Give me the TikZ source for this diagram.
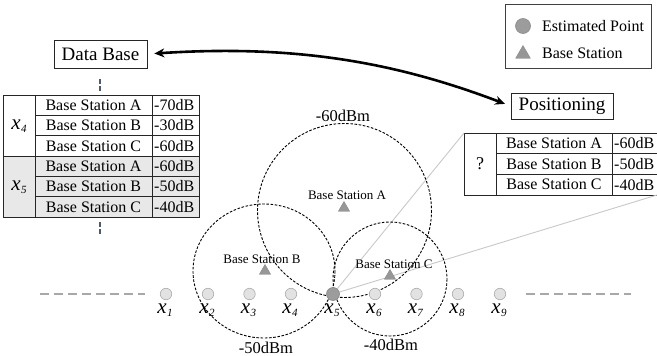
\documentclass[tikz,border=0pt]{standalone}
\usepackage{fontspec}
\setmainfont{Liberation Serif}
\usetikzlibrary{shapes.geometric,arrows.meta}
\definecolor{ptfill}{HTML}{E2E2E2}
\definecolor{ptdraw}{HTML}{ABABAB}
\definecolor{estfill}{HTML}{9C9C9C}
\definecolor{estdraw}{HTML}{8A8A8A}
\definecolor{trifill}{HTML}{979797}
\definecolor{tgray}{HTML}{E8E8E8}
\definecolor{dbdash}{HTML}{4D5A6E}
\definecolor{guide}{HTML}{C8C8C8}
\definecolor{axisdash}{HTML}{A8A8A8}
\newcommand\xlab[1]{\textit{x}\kern0.3pt\raisebox{-0.35ex}{\fontsize{11}{11}\selectfont\textit{#1}}}
\begin{document}
\begin{tikzpicture}[x=1pt,y=-1pt,
  framebox/.style={draw=black!85,line width=0.8pt,inner sep=0pt,font=\fontsize{19}{19}\selectfont},
  cell/.style={inner sep=0pt,font=\fontsize{16}{16}\selectfont},
  tline/.style={draw=black!85,line width=0.8pt},
  rangecirc/.style={draw=black,line width=0.9pt,dash pattern=on 2.6pt off 1.6pt},
  pt/.style={circle,fill=ptfill,draw=ptdraw,line width=0.6pt,minimum size=11.5pt,inner sep=0pt},
  estpt/.style={circle,fill=estfill,draw=estdraw,line width=0.6pt,minimum size=13pt,inner sep=0pt},
  bs/.style={regular polygon,regular polygon sides=3,fill=trifill,draw=trifill!90!black,line width=0.4pt,minimum size=13pt,inner sep=0pt},
  bslabel/.style={inner sep=0pt,font=\fontsize{13}{13}\selectfont},
  dbmlabel/.style={inner sep=0pt,font=\fontsize{16.5}{16.5}\selectfont},
  xlabel/.style={inner sep=0pt,font=\fontsize{21}{21}\selectfont},
  legtext/.style={inner sep=0pt,anchor=west,font=\fontsize{16}{16}\selectfont},
  dbconn/.style={draw=dbdash,line width=1.6pt,dash pattern=on 5pt off 2pt},
  guideline/.style={draw=guide,line width=0.9pt},
  axisline/.style={draw=axisdash,line width=1.8pt,dash pattern=on 9pt off 5pt}
]
\useasboundingbox (0,0) rectangle (657,356);

% ---------- boxes ----------
\node[framebox,minimum width=93pt,minimum height=28pt] (db) at (100.5,54) {Data Base};
\node[framebox,minimum width=102pt,minimum height=26pt] (pos) at (562,106) {Positioning};
\node[draw=black!75,line width=0.8pt,minimum width=146pt,minimum height=64pt,inner sep=0pt] (legend) at (578,36) {};
\node[circle,fill=estfill,draw=estdraw,line width=0.6pt,minimum size=15pt,inner sep=0pt] (legcirc) at (523,26) {};
\node[bs,minimum size=17pt] (legtri) at (523,54) {};
\node[legtext] (legest) at (542,26) {Estimated Point};
\node[legtext] (legbs) at (542,53) {Base Station};

% ---------- main arrow ----------
\draw[line width=2.6pt,{Stealth[length=10pt,width=9pt]}-{Stealth[length=10pt,width=9pt]},shorten <=7pt,shorten >=6pt]
  (db.east) .. controls (300,44) and (400,64) .. (pos.west);

% ---------- left table ----------
\fill[tgray] (3,156) rectangle (199,217);
\draw[tline] (3,95) rectangle (199,217);
\draw[tline] (3,156) -- (199,156);
\draw[tline] (35,95) -- (35,217);
\draw[tline] (152,95) -- (152,217);
\foreach \yy in {115.3,135.7,176.3,196.7} \draw[tline] (35,\yy) -- (199,\yy);
\node[xlabel] (lx4) at (19,126) {\xlab{4}};
\node[xlabel] (lx5) at (19,187) {\xlab{5}};
\node[cell] (la1) at (93.5,105.2) {Base Station A};
\node[cell] (lb1) at (93.5,125.5) {Base Station B};
\node[cell] (lc1) at (93.5,145.8) {Base Station C};
\node[cell] (la2) at (93.5,166.2) {Base Station A};
\node[cell] (lb2) at (93.5,186.5) {Base Station B};
\node[cell] (lc2) at (93.5,206.8) {Base Station C};
\node[cell,anchor=west] (lv1) at (154,105.2) {-70dB};
\node[cell,anchor=west] (lv2) at (154,125.5) {-30dB};
\node[cell,anchor=west] (lv3) at (154,145.8) {-60dB};
\node[cell,anchor=west] (lv4) at (154,166.2) {-60dB};
\node[cell,anchor=west] (lv5) at (154,186.5) {-50dB};
\node[cell,anchor=west] (lv6) at (154,206.8) {-40dB};
\coordinate (dbu1) at (100,79);
\coordinate (dbu2) at (100,91);
\coordinate (dbl1) at (100,222);
\coordinate (dbl2) at (100,235);
\draw[dbconn] (dbu1) -- (dbu2);
\draw[dbconn] (dbl1) -- (dbl2);

% ---------- right table ----------
\draw[tline] (657,133) -- (464,133) -- (464,195) -- (657,195);
\draw[tline] (496,133) -- (496,195);
\draw[tline] (612,133) -- (612,195);
\draw[tline] (496,153.7) -- (657,153.7);
\draw[tline] (496,174.3) -- (657,174.3);
\node[cell,font=\fontsize{18}{18}\selectfont] (rq) at (480,164) {?};
\node[cell] (ra) at (554,143.3) {Base Station A};
\node[cell] (rb) at (554,164) {Base Station B};
\node[cell] (rc) at (554,184.7) {Base Station C};
\node[cell,anchor=west] (rv1) at (614,143.3) {-60dB};
\node[cell,anchor=west] (rv2) at (614,164) {-50dB};
\node[cell,anchor=west] (rv3) at (614,184.7) {-40dB};
\coordinate (rtl) at (464,133);
\coordinate (rbr) at (657,195);

% ---------- axis ----------
\coordinate (axl1) at (40,294);
\coordinate (axl2) at (145,294);
\coordinate (axr1) at (526,294);
\coordinate (axr2) at (631,294);
\draw[axisline] (axl1) -- (axl2);
\draw[axisline] (axr1) -- (axr2);

% ---------- guide lines ----------
\coordinate (est) at (333,294);
\draw[guideline] (est) -- (rtl);
\draw[guideline] (est) -- (rbr);

% ---------- range circles ----------
\draw[rangecirc] (344.5,210.5) circle[radius=87];
\draw[rangecirc] (264,271) ellipse[x radius=71,y radius=67];
\draw[rangecirc] (390,279) circle[radius=57];
\node[dbmlabel] (ma) at (343,116) {-60dBm};
\node[dbmlabel] (mb) at (266,348) {-50dBm};
\node[dbmlabel] (mc) at (391,345) {-40dBm};

% ---------- points ----------
\foreach \i/\xx in {1/166,2/208,3/249.5,4/291,6/375,7/416.5,8/458,9/500} {
  \node[pt] (p\i) at (\xx,294) {};
  \node[xlabel] (xl\i) at (\xx-1,310) {\xlab{\i}};
}
\node[estpt] (p5) at (est) {};
\node[xlabel] (xl5) at (332,310) {\xlab{5}};

% ---------- base stations ----------
\node[bs] (bsa) at (344,208) {};
\node[bs] (bsb) at (265,271) {};
\node[bs] (bsc) at (390,276) {};
\node[bslabel] (bsal) at (347,195) {Base Station A};
\node[bslabel] (bsbl) at (262,259) {Base Station B};
\node[bslabel] (bscl) at (394,264) {Base Station C};
\end{tikzpicture}
\end{document}
